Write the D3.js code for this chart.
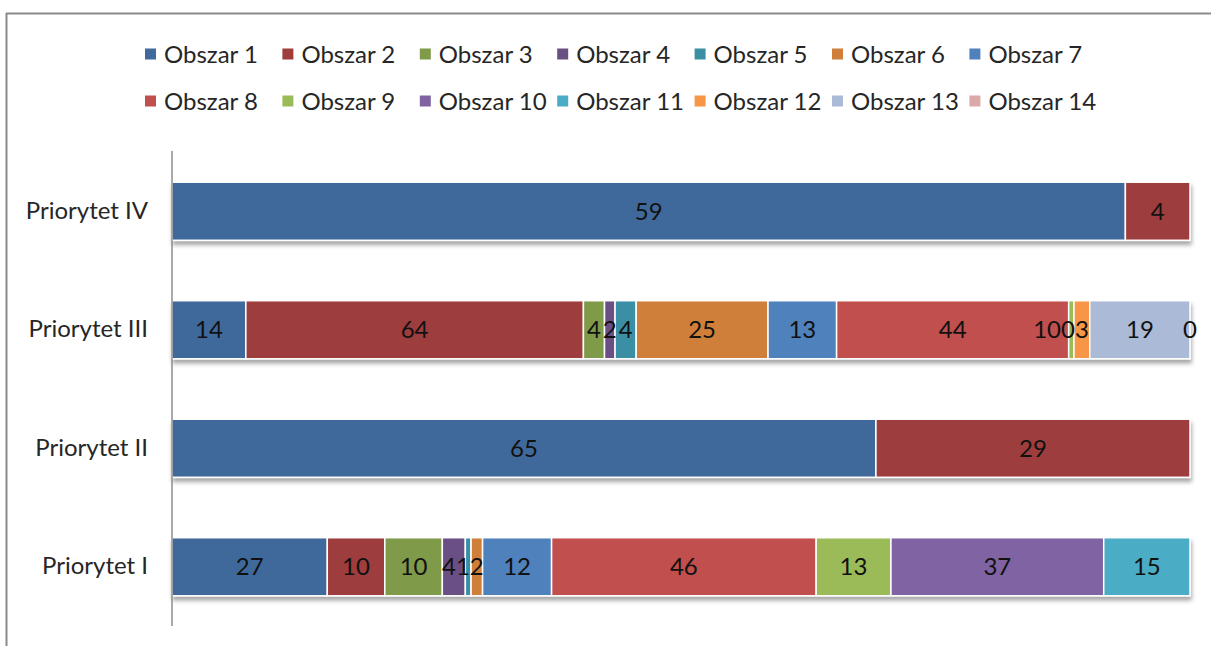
<!DOCTYPE html>
<html>
<head>
<meta charset="utf-8">
<script src="https://cdn.jsdelivr.net/npm/d3@7/dist/d3.min.js"></script>
<style>
  html, body { margin: 0; padding: 0; background: #fff; }
  svg { display: block; font-family: Lato, "Open Sans", sans-serif; }
</style>
</head>
<body>
<svg id="chart" width="1211" height="646"></svg>
<script>
// Categories (bottom to top on the chart)
const categories = ["Priorytet I", "Priorytet II", "Priorytet III", "Priorytet IV"];

// Series names shown in the legend
const seriesNames = ["Obszar 1", "Obszar 2", "Obszar 3", "Obszar 4", "Obszar 5", "Obszar 6", "Obszar 7",
                     "Obszar 8", "Obszar 9", "Obszar 10", "Obszar 11", "Obszar 12", "Obszar 13", "Obszar 14"];

// Values per series, in category order (I, II, III, IV); null = no entry
const obszar1  = [27, 65, 14, 59];
const obszar2  = [10, 29, 64, 4];
const obszar3  = [10, null, 4, null];
const obszar4  = [4, null, 2, null];
const obszar5  = [1, null, 4, null];
const obszar6  = [2, null, 25, null];
const obszar7  = [12, null, 13, null];
const obszar8  = [46, null, 44, null];
const obszar9  = [13, null, 1, null];
const obszar10 = [37, null, 0, null];
const obszar11 = [15, null, 0, null];
const obszar12 = [null, null, 3, null];
const obszar13 = [null, null, 19, null];
const obszar14 = [null, null, 0, null];

const seriesValues = [obszar1, obszar2, obszar3, obszar4, obszar5, obszar6, obszar7,
                      obszar8, obszar9, obszar10, obszar11, obszar12, obszar13, obszar14];

const colors = ["#41699b", "#9e3d3c", "#7f9a48", "#695083", "#3a8fa5", "#d07f3a", "#4f81bd",
                "#c0504d", "#9bbb59", "#8064a2", "#4bacc6", "#f79646", "#aabad7", "#dba9a8"];

const FONT = 24;
const svg = d3.select("#chart");

// Outer frame
svg.append("line").attr("x1", 6).attr("x2", 1211).attr("y1", 13.5).attr("y2", 13.5)
  .attr("stroke", "#8a8a8a").attr("stroke-width", 2);
svg.append("line").attr("x1", 6.5).attr("x2", 6.5).attr("y1", 13).attr("y2", 646)
  .attr("stroke", "#8a8a8a").attr("stroke-width", 2);

// Shadow under the bars
const defs = svg.append("defs");
const f = defs.append("filter").attr("id", "shadow").attr("x", "-5%").attr("y", "-20%")
  .attr("width", "110%").attr("height", "150%");
f.append("feDropShadow").attr("dx", 1).attr("dy", 4).attr("stdDeviation", 2)
  .attr("flood-color", "#000").attr("flood-opacity", 0.35);

// Scales
const x = d3.scaleLinear().domain([0, 1]).range([172, 1190]);
const y = d3.scaleBand().domain(categories.slice().reverse()).range([152, 626])
  .paddingInner(0.51).paddingOuter(0.255);

// Normalized stacks per category
const rows = categories.map((cat, ci) => {
  const vals = seriesValues.map(s => s[ci]);
  const total = d3.sum(vals.filter(v => v != null));
  let acc = 0;
  const segs = [];
  vals.forEach((v, si) => {
    if (v == null) return;
    segs.push({ cat, si, v, x0: acc / total, x1: (acc + v) / total });
    acc += v;
  });
  return { cat, segs };
});

const barsG = svg.append("g");
rows.forEach(r => {
  const g = barsG.append("g").attr("filter", "url(#shadow)");
  g.selectAll("rect").data(r.segs.filter(d => d.v > 0)).join("rect")
    .attr("x", d => x(d.x0))
    .attr("y", y(r.cat))
    .attr("width", d => x(d.x1) - x(d.x0))
    .attr("height", y.bandwidth())
    .attr("fill", d => colors[d.si])
    .attr("stroke", "#fff")
    .attr("stroke-width", 1.5);
});

// Data labels, centred on segments; crowded labels are pushed left so they sit side by side
rows.forEach(r => {
  const labels = svg.append("g").selectAll("text").data(r.segs).join("text")
    .attr("x", d => (x(d.x0) + x(d.x1)) / 2)
    .attr("y", y(r.cat) + y.bandwidth() / 2)
    .attr("dy", "0.36em")
    .attr("text-anchor", "middle")
    .attr("font-size", FONT)
    .attr("fill", "#111")
    .text(d => d.v);
  const nodes = labels.nodes();
  const info = nodes.map(n => ({ n, cx: +n.getAttribute("x"), w: n.getComputedTextLength() }));
  for (let i = info.length - 2; i >= 0; i--) {
    const right = info[i].cx + info[i].w / 2;
    const nextLeft = info[i + 1].cx - info[i + 1].w / 2;
    if (right > nextLeft) {
      info[i].cx = nextLeft - info[i].w / 2;
      info[i].n.setAttribute("x", info[i].cx);
    }
  }
});

// Category axis
const axisG = svg.append("g").attr("transform", "translate(172,0)")
  .call(d3.axisLeft(y).tickSize(0).tickPadding(24));
axisG.select(".domain").attr("stroke", "#8c8c8c").attr("stroke-width", 1.5)
  .attr("d", "M0,151V626");
axisG.selectAll("text").attr("font-size", FONT).attr("fill", "#262626")
  .attr("font-family", "Lato, 'Open Sans', sans-serif");

// Legend: two rows of seven
const legend = svg.append("g");
seriesNames.forEach((name, i) => {
  const col = i % 7, row = Math.floor(i / 7);
  const gx = 145 + col * 137.4, gy = row === 0 ? 54 : 101;
  const item = legend.append("g").attr("transform", `translate(${gx},${gy})`);
  item.append("rect").attr("x", 0).attr("y", -5.5).attr("width", 11).attr("height", 11)
    .attr("fill", colors[i]);
  item.append("text").attr("x", 19).attr("y", 0).attr("dy", "0.36em")
    .attr("font-size", FONT).attr("fill", "#262626").text(name);
});
</script>
</body>
</html>
